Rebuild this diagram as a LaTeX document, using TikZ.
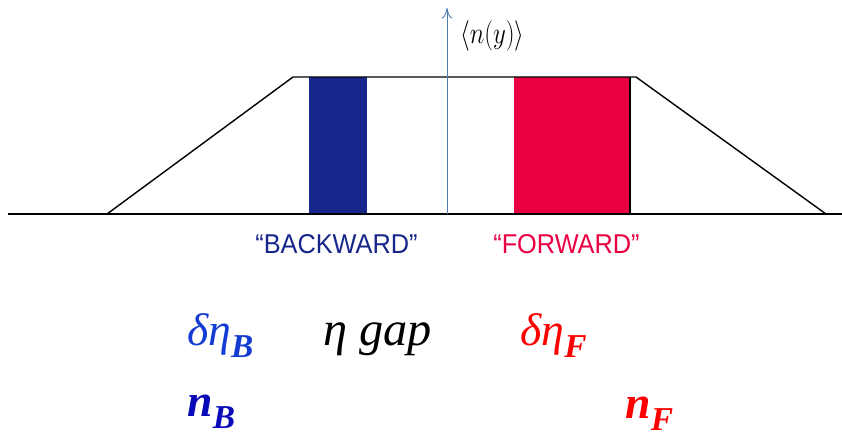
\documentclass[tikz,border=0pt]{standalone}
\usepackage{fontspec}
\setmainfont{Liberation Serif}
\newfontfamily\windowfont{Liberation Sans}
\usetikzlibrary{arrows.meta}

\definecolor{backblue}{RGB}{22,38,138}
\definecolor{forwred}{RGB}{234,0,66}
\definecolor{axisblue}{RGB}{80,125,175}
\definecolor{labblue}{RGB}{20,60,210}
\definecolor{nblue}{RGB}{10,10,185}
\definecolor{labred}{RGB}{255,0,0}

\tikzset{
  window/.style={font=\windowfont\fontsize{15.5}{18}\selectfont, anchor=base west, inner sep=0pt},
  bigmath/.style={font=\fontsize{26}{30}\selectfont, anchor=base west, inner sep=0pt}
}
\newcommand{\subB}[1]{\raisebox{-7pt}{\fontsize{19}{22}\selectfont\bfseries\itshape #1}}

\begin{document}
\begin{tikzpicture}[x=0.02cm, y=-0.02cm, >={To[length=6pt,width=6pt]}]
    \useasboundingbox (0,0) rectangle (842,437);

    % Windows
    \fill[backblue] (309,77) rectangle (367,214);
    \fill[forwred] (514,77) rectangle (630,214);
    \draw[line width=0.8pt] (630,77) -- (630,214);

    % Distribution
    \coordinate (base0) at (8,214);
    \coordinate (base1) at (842,214);
    \coordinate (lfoot) at (107,214);
    \coordinate (ltop) at (293,77);
    \coordinate (rtop) at (636,77);
    \coordinate (rfoot) at (826,214);
    \draw[line width=1.1pt] (base0) -- (base1);
    \draw[line width=0.8pt] (lfoot) -- (ltop) -- (rtop) -- (rfoot);

    % Axis
    \coordinate (axis0) at (447,214);
    \coordinate (axis1) at (447,8);
    \draw[->, axisblue, line width=0.5pt] (axis0) -- (axis1);
    \node[anchor=west, font=\fontsize{19}{22}\selectfont, xscale=0.82] (ny) at (455,36) {$\langle n(y)\rangle$};

    % Labels
    \node[window, text=backblue, xscale=0.93] (back) at (255,253) {“BACKWARD”};
    \node[window, text=forwred, xscale=0.93] (forw) at (493,253) {“FORWARD”};
    \node[bigmath, text=labblue] (detaB) at (187,345) {\textit{δη}\subB{B}};
    \node[bigmath, font=\fontsize{27.5}{30}\selectfont] (gap) at (323,345) {\textit{η gap}};
    \node[bigmath, text=labred] (detaF) at (520,345) {\textit{δη}\subB{F}};
    \node[bigmath, text=nblue] (nB) at (187,416) {\textbf{\textit{n}}\subB{B}};
    \node[bigmath, text=labred] (nF) at (625,418) {\textbf{\textit{n}}\subB{F}};
\end{tikzpicture}
\end{document}
